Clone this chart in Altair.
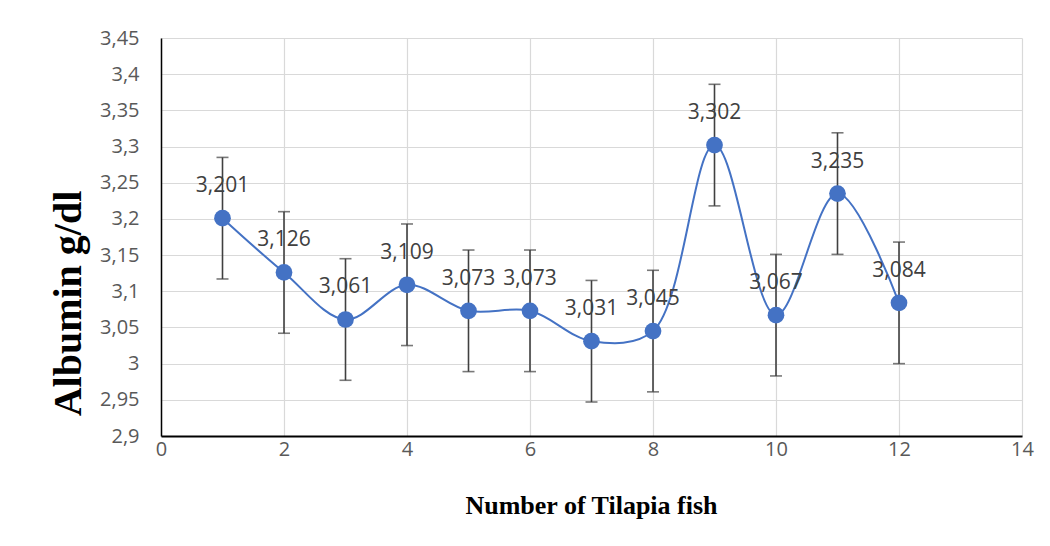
import altair as alt
import pandas as pd

fish = [1, 2, 3, 4, 5, 6, 7, 8, 9, 10, 11, 12]
albumin = [3.201, 3.126, 3.061, 3.109, 3.073, 3.073, 3.031, 3.045, 3.302, 3.067, 3.235, 3.084]
err = [0.084] * 12
y_ticks = [2.9, 2.95, 3.0, 3.05, 3.1, 3.15, 3.2, 3.25, 3.3, 3.35, 3.4, 3.45]
x_ticks = [0, 2, 4, 6, 8, 10, 12, 14]

df = pd.DataFrame({"fish": fish, "albumin": albumin, "err": err})
df["lo"] = df["albumin"] - df["err"]
df["hi"] = df["albumin"] + df["err"]

BLUE = "#4472C4"
DARK = "#404040"

x_axis = alt.Axis(
    values=x_ticks,
    labelExpr="format(datum.value, 'd')",
    title="Number of Tilapia fish",
    titleFont="Liberation Serif",
    titleFontWeight="bold",
    titleFontSize=26,
    titleColor="#000000",
    titleX=430,
    titleY=77,
    titleAlign="center",
    titleBaseline="alphabetic",
    labelPadding=3,
    labelFlush=False,
    domainWidth=2,
)
y_axis = alt.Axis(
    values=y_ticks,
    labelExpr="replace(format(datum.value, '.2~f'), '.', ',')",
    title="Albumin g/dl",
    titleFont="Liberation Serif",
    titleFontWeight="bold",
    titleFontSize=40,
    titleColor="#000000",
    titleAngle=270,
    titleX=-81,
    titleY=265,
    titleAlign="center",
    titleBaseline="alphabetic",
    labelPadding=22,
    labelFlush=False,
    domainWidth=1.5,
)
x_scale = alt.Scale(domain=[0, 14], nice=False, zero=False)
y_scale = alt.Scale(domain=[2.9, 3.45], nice=False, zero=False)


def X(field):
    return alt.X(field, type="quantitative", scale=x_scale, axis=x_axis)


def Y(field):
    return alt.Y(field, type="quantitative", scale=y_scale, axis=y_axis)


base = alt.Chart(df)

line = base.mark_line(color=BLUE, strokeWidth=2, interpolate="catmull-rom").encode(
    x=X("fish"), y=Y("albumin")
)

bars = base.mark_rule(color=DARK, strokeWidth=1.6).encode(
    x=X("fish"), y=Y("lo"), y2="hi:Q"
)
cap_lo = base.mark_tick(color=DARK, orient="horizontal", size=12, thickness=1.6).encode(
    x=X("fish"), y=Y("lo")
)
cap_hi = base.mark_tick(color=DARK, orient="horizontal", size=12, thickness=1.6).encode(
    x=X("fish"), y=Y("hi")
)

points = base.mark_point(filled=True, color=BLUE, opacity=1, size=280, shape="circle").encode(
    x=X("fish"), y=Y("albumin")
)

labels = base.transform_calculate(
    lab="replace(format(datum.albumin, '.3f'), '.', ',')"
).mark_text(
    font="Open Sans", fontSize=21, color=DARK, dy=-26, baseline="alphabetic", align="center"
).encode(x=X("fish"), y=Y("albumin"), text="lab:N")

chart = (
    alt.layer(line, bars, cap_lo, cap_hi, points, labels)
    .properties(
        width=861,
        height=398,
        autosize=alt.AutoSizeParams(type="none"),
        padding={"left": 153, "top": 30, "right": 20, "bottom": 100},
        background="#ffffff",
    )
    .configure_view(stroke=None)
    .configure_axis(
        labelFont="Open Sans",
        labelFontSize=20,
        labelColor="#595959",
        ticks=False,
        tickSize=0,
        domainColor="#000000",
        grid=True,
        gridColor="#d9d9d9",
        gridWidth=1.2,
    )
)

chart.save("out.html", embed_options={"renderer": "svg", "actions": False})
